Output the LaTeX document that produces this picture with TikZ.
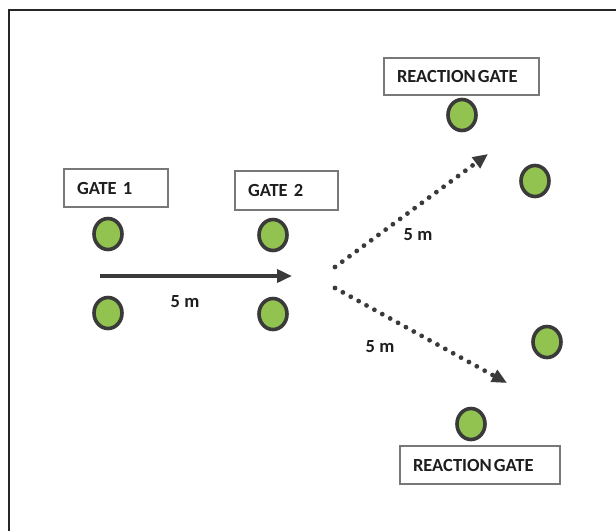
\documentclass[tikz,border=0pt]{standalone}
\usepackage{fontspec}
\setmainfont{Carlito}
\usetikzlibrary{arrows.meta,shapes.geometric}
\definecolor{conegreen}{RGB}{146,194,80}
\definecolor{conerim}{RGB}{58,58,58}
\definecolor{inkdark}{RGB}{30,30,30}
\definecolor{boxgrey}{RGB}{120,120,120}
\begin{document}
\begin{tikzpicture}[x=1pt,y=1pt,
  labelbox/.style={draw=boxgrey,line width=1.8pt,fill=white,
    font=\fontsize{18.5}{19}\selectfont\bfseries,text=inkdark,
    align=left,inner xsep=13pt,inner ysep=0pt,anchor=center},
  cone/.style={draw=conerim,fill=conegreen,line width=3.6pt,
    ellipse,minimum width=28pt,minimum height=31pt,inner sep=0pt},
  distlabel/.style={font=\fontsize{18.5}{19}\selectfont\bfseries,text=inkdark,inner sep=0pt},
  runarrow/.style={draw=conerim,line width=3.6pt,
    -{Triangle[length=15pt,width=13pt]}},
  turnarrow/.style={draw=conerim,line width=4.8pt,line cap=round,
    dash pattern=on 0pt off 9pt,
    -{Triangle[length=15pt,width=13pt]}}]
\useasboundingbox (0,0) rectangle (616,-531);
\fill[white] (0,0) rectangle (616,-531);
% frame along the top and left edges
\draw[black!85,line width=2.4pt] (9,-531) -- (9,-10) -- (616,-10);

% gate labels
\node[labelbox,text width=78pt,minimum height=38pt] (gateone) at (116,-188) {GATE 1};
\node[labelbox,text width=77pt,minimum height=39pt] (gatetwo) at (286.5,-190.5) {GATE 2};
\node[labelbox,text width=129pt,minimum height=37pt] (reacttop) at (461.5,-76.5) {REACTION\hspace{2pt}GATE};
\node[labelbox,text width=134pt,minimum height=38pt] (reactbot) at (480,-465) {REACTION\hspace{2pt}GATE};

% cones
\node[cone] (conea) at (108,-234) {};
\node[cone] (coneb) at (108,-313) {};
\node[cone] (conec) at (273,-235) {};
\node[cone] (coned) at (273,-314) {};
\node[cone] (conee) at (462,-115) {};
\node[cone] (conef) at (535,-181) {};
\node[cone] (coneg) at (547,-342) {};
\node[cone] (coneh) at (471,-424) {};

% run path
\coordinate (runstart) at (100,-276);
\coordinate (runend) at (292,-276);
\draw[runarrow] (runstart) -- (runend);
\node[distlabel] (runlen) at (185,-302) {5 m};

% reaction paths
\coordinate (upstart) at (335,-267);
\coordinate (upend) at (488,-154);
\coordinate (downstart) at (335,-288);
\coordinate (downend) at (507,-383);
\draw[turnarrow] (upstart) -- (upend);
\draw[turnarrow] (downstart) -- (downend);
\node[distlabel] (uplen) at (418,-235) {5 m};
\node[distlabel] (downlen) at (380,-347) {5 m};
\end{tikzpicture}
\end{document}
